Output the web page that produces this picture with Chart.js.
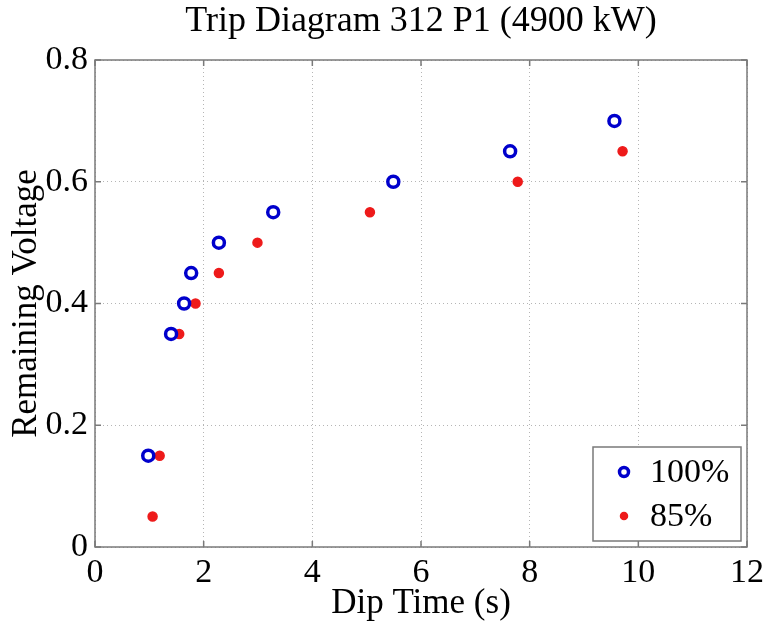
<!DOCTYPE html>
<html>
<head>
<meta charset="utf-8">
<script src="https://cdn.jsdelivr.net/npm/chart.js@4.4.7/dist/chart.umd.min.js"></script>
<style>
  html, body { margin: 0; padding: 0; background: #fff; }
  #wrap { width: 766px; height: 625px; position: relative; }
</style>
</head>
<body>
<div id="wrap"><canvas id="chart"></canvas></div>
<script>
// values
const dipTime100 = [0.98, 1.40, 1.64, 1.77, 2.28, 3.28, 5.49, 7.64, 9.56];
const voltage100 = [0.15, 0.35, 0.40, 0.45, 0.50, 0.55, 0.60, 0.65, 0.70];
const dipTime85 = [1.06, 1.19, 1.55, 1.85, 2.28, 2.99, 5.06, 7.78, 9.71];
const voltage85 = [0.05, 0.15, 0.35, 0.40, 0.45, 0.50, 0.55, 0.60, 0.65];
const seriesLabels = ['100%', '85%'];
const xTicks = [0, 2, 4, 6, 8, 10, 12];
const yTicks = [0, 0.2, 0.4, 0.6, 0.8];

const FONT = '"Liberation Serif", "Times New Roman", serif';
const AXIS_GREY = '#7a7a7a';

const toPoints = (xs, ys) => xs.map((x, i) => ({ x, y: ys[i] }));

// MATLAB style box with inward tick marks
const framePlugin = {
  id: 'frame',
  afterDraw(chart) {
    const { ctx, chartArea: a, scales } = chart;
    const len = 6;
    ctx.save();
    ctx.strokeStyle = AXIS_GREY;
    ctx.lineWidth = 1.5;
    ctx.strokeRect(a.left, a.top, a.right - a.left, a.bottom - a.top);
    ctx.beginPath();
    xTicks.forEach(v => {
      const px = scales.x.getPixelForValue(v);
      ctx.moveTo(px, a.bottom); ctx.lineTo(px, a.bottom - len);
      ctx.moveTo(px, a.top); ctx.lineTo(px, a.top + len);
    });
    yTicks.forEach(v => {
      const py = scales.y.getPixelForValue(v);
      ctx.moveTo(a.left, py); ctx.lineTo(a.left + len, py);
      ctx.moveTo(a.right, py); ctx.lineTo(a.right - len, py);
    });
    ctx.stroke();
    ctx.restore();
  }
};

// legend box in the lower right corner of the plot
const legendBoxPlugin = {
  id: 'legendBox',
  afterDraw(chart) {
    const { ctx, chartArea: a } = chart;
    const w = 148, h = 94;
    const x0 = a.right - 6 - w, y0 = a.bottom - 6 - h;
    ctx.save();
    ctx.fillStyle = '#fff';
    ctx.fillRect(x0, y0, w, h);
    ctx.strokeStyle = AXIS_GREY;
    ctx.lineWidth = 1.5;
    ctx.strokeRect(x0, y0, w, h);
    chart.data.datasets.forEach((ds, i) => {
      const cy = y0 + 25 + i * 44;
      ctx.fillStyle = ds.backgroundColor;
      ctx.strokeStyle = ds.borderColor;
      ctx.lineWidth = ds.borderWidth;
      Chart.helpers.drawPoint(ctx, {
        pointStyle: ds.pointStyle,
        radius: ds.legendRadius,
        borderWidth: ds.borderWidth,
        rotation: 0
      }, x0 + 31, cy);
      ctx.fillStyle = '#000';
      ctx.font = '34px ' + FONT;
      ctx.textBaseline = 'middle';
      ctx.textAlign = 'left';
      ctx.fillText(ds.label, x0 + 57, cy + 1);
    });
    ctx.restore();
  }
};

new Chart(document.getElementById('chart'), {
  type: 'scatter',
  data: {
    datasets: [
      {
        label: seriesLabels[0],
        data: toPoints(dipTime100, voltage100),
        pointStyle: 'circle',
        pointRadius: 5.5,
        legendRadius: 4.5,
        borderWidth: 3.5,
        borderColor: '#0000cc',
        backgroundColor: '#ffffff'
      },
      {
        label: seriesLabels[1],
        data: toPoints(dipTime85, voltage85),
        pointStyle: 'circle',
        pointRadius: 4.5,
        legendRadius: 3.5,
        borderWidth: 1.5,
        borderColor: '#ee1a1a',
        backgroundColor: '#ee1a1a'
      }
    ]
  },
  options: {
    responsive: true,
    maintainAspectRatio: false,
    animation: false,
    layout: { padding: { left: 0, right: 19, top: 0, bottom: 0 } },
    plugins: {
      legend: { display: false },
      tooltip: { enabled: false },
      title: {
        display: true,
        fullSize: false,
        text: 'Trip Diagram 312 P1 (4900 kW)',
        color: '#000',
        font: { family: FONT, size: 36, weight: 'normal', lineHeight: 1.2 },
        padding: { top: 0, bottom: 16.8 }
      }
    },
    scales: {
      x: {
        type: 'linear',
        min: 0,
        max: 12,
        afterBuildTicks: s => { s.ticks = xTicks.map(v => ({ value: v })); },
        afterFit: s => { s.height = 78; s.paddingLeft = 0; s.paddingRight = 0; },
        grid: { color: '#b5b5b5', lineWidth: 1, drawTicks: false },
        border: { display: false, dash: [1, 3] },
        ticks: { color: '#000', padding: 6, font: { family: FONT, size: 34 } },
        title: {
          display: true,
          text: 'Dip Time (s)',
          color: '#000',
          font: { family: FONT, size: 35, lineHeight: 1.2 },
          padding: { top: 0, bottom: 0 }
        }
      },
      y: {
        type: 'linear',
        min: 0,
        max: 0.8,
        afterBuildTicks: s => { s.ticks = yTicks.map(v => ({ value: v })); },
        afterFit: s => { s.width = 95; s.paddingTop = 0; s.paddingBottom = 0; },
        grid: { color: '#b5b5b5', lineWidth: 1, drawTicks: false },
        border: { display: false, dash: [1, 3] },
        ticks: {
          color: '#000',
          padding: 7,
          font: { family: FONT, size: 34 },
          callback: v => (v === 0 ? '0' : v.toFixed(1))
        },
        title: {
          display: true,
          text: 'Remaining Voltage',
          color: '#000',
          font: { family: FONT, size: 35, lineHeight: 1.2 },
          padding: { top: 6, bottom: 0 }
        }
      }
    }
  },
  plugins: [framePlugin, legendBoxPlugin]
});
</script>
</body>
</html>
